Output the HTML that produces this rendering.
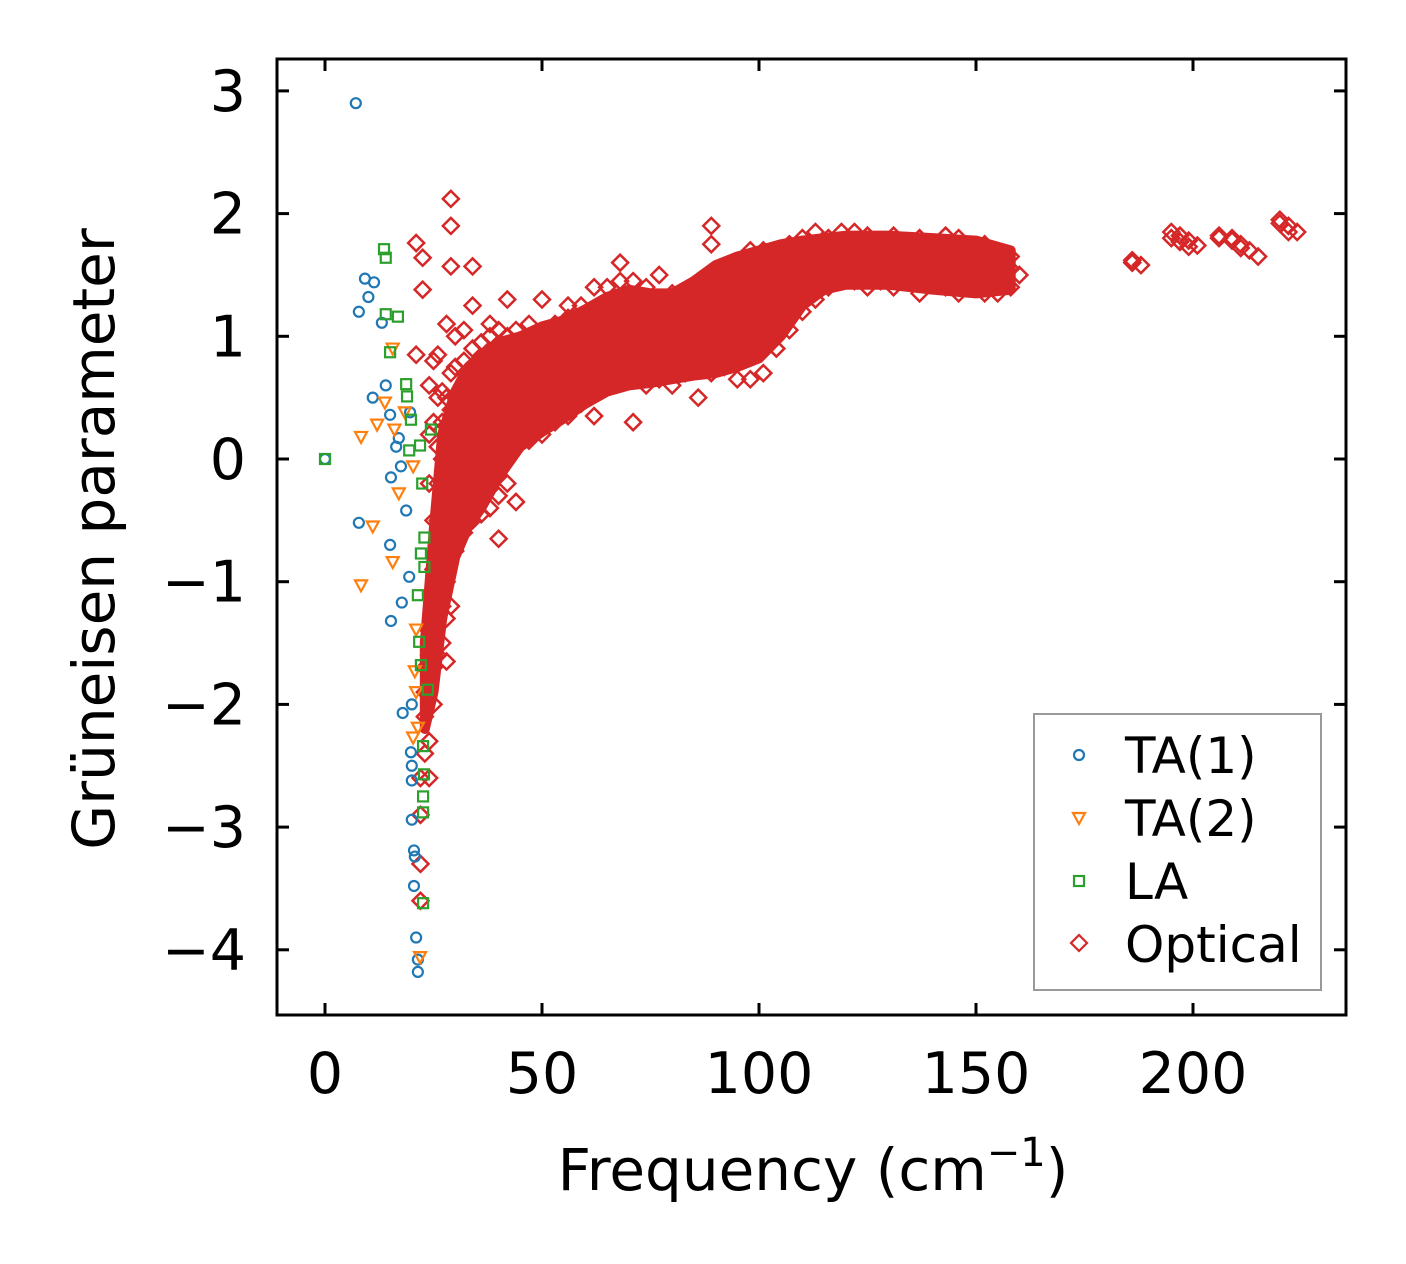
<!DOCTYPE html>
<html><head><meta charset="utf-8">
<style>
html,body{margin:0;padding:0;background:#fff;}
svg{display:block;font-family:"DejaVu Sans","Liberation Sans",sans-serif;}
</style></head>
<body>
<svg id="chart" width="1406" height="1264" viewBox="0 0 1406 1264" xmlns="http://www.w3.org/2000/svg">
<rect width="1406" height="1264" fill="#fff"/>
<g id="marks"></g>
<rect x="277" y="59" width="1069" height="956" fill="none" stroke="#000" stroke-width="3"/>
<g id="ticks"></g>
<text transform="translate(114,539) rotate(-90)" text-anchor="middle" font-size="58">Grüneisen parameter</text>
<text x="813" y="1190" text-anchor="middle" font-size="58">Frequency (cm<tspan dy="-24" font-size="40">−1</tspan><tspan dy="24">)</tspan></text>
<g>
<rect x="1034" y="714" width="287" height="276" fill="#fff" fill-opacity="0.8" stroke="#999" stroke-width="2"/>
<circle cx="1079" cy="755" r="5" fill="none" stroke="#1f77b4" stroke-width="2.2"/>
<text x="1125" y="773" font-size="50">TA(1)</text>
<path d="M1073,813 L1085,813 L1079,824 Z" fill="none" stroke="#ff7f0e" stroke-width="2.2"/>
<text x="1125" y="836" font-size="50">TA(2)</text>
<rect x="1074" y="876" width="10" height="10" fill="none" stroke="#2ca02c" stroke-width="2.2"/>
<text x="1125" y="899" font-size="50">LA</text>
<path d="M1079,935 L1087,943 L1079,951 L1071,943 Z" fill="none" stroke="#d62728" stroke-width="2.2"/>
<text x="1125" y="962" font-size="50">Optical</text>
</g>
</svg>
<script>
const xTicks = [0, 50, 100, 150, 200];
const yTicks = [3, 2, 1, 0, -1, -2, -3, -4];
const ta1Freq = [0,7.1,9.2,10,11.3,7.8,13.1,14,11,15,16.4,17.5,15.2,18.7,7.8,15,19.4,17.7,15.2,17.9,20,19.8,20,20,20,20.5,20.7,20.5,21,21.4,21.4,19.6,17];
const ta1Gamma = [0,2.9,1.47,1.32,1.44,1.2,1.11,0.6,0.5,0.36,0.1,-0.06,-0.15,-0.42,-0.52,-0.7,-0.96,-1.17,-1.32,-2.07,-2.0,-2.39,-2.5,-2.62,-2.94,-3.19,-3.24,-3.48,-3.9,-4.18,-4.08,0.38,0.17];
const ta2Freq = [8.3,11,8.3,12,13.8,15.6,16,15.6,17,18.4,20.3,21,21,20.3,21.9,20.7,21.4];
const ta2Gamma = [-1.03,-0.55,0.18,0.28,0.46,0.9,0.24,-0.84,-0.28,0.38,-0.06,-1.39,-1.9,-2.27,-4.06,-1.73,-2.19];
const laFreq = [0,13.6,14,14,16.8,15,18.7,18.9,19.8,21.9,22.4,22.9,22.9,21.4,21.7,22.1,23.7,22.6,22.8,22.6,22.6,22.6,24.4,19.4,22.1];
const laGamma = [0,1.71,1.64,1.18,1.16,0.87,0.61,0.51,0.32,0.11,-0.2,-0.64,-0.88,-1.11,-1.49,-1.68,-1.88,-2.34,-2.57,-2.75,-2.88,-3.62,0.24,0.07,-0.77];
// dense overlapping optical-mode core (envelope of the saturated region)
const opticalCoreFreq = [23,25,27,30,33,36,40,45,50,55,60,65,70,75,80,85,90,95,100,105,110,115,120,130,140,150,158];
const opticalCoreLow  = [-2.2,-1.9,-1.3,-0.8,-0.55,-0.4,-0.15,0.1,0.22,0.33,0.45,0.55,0.6,0.62,0.65,0.68,0.7,0.75,0.82,1.0,1.25,1.38,1.42,1.42,1.38,1.35,1.38];
const opticalCoreHigh = [-1.5,-0.6,0.2,0.55,0.75,0.85,0.95,1.0,1.08,1.13,1.22,1.32,1.38,1.35,1.35,1.45,1.58,1.65,1.7,1.75,1.78,1.8,1.82,1.82,1.8,1.78,1.7];
const opticalColumns = [
 [21,[0.85,1.76]],[22.5,[1.38,1.64]],
 [22,[-3.6,-3.3,-2.9,-2.6]],[23,[-2.4,-2.1,-1.9,-1.7]],
 [24,[-2.6,-2.3,-1.6,-1.4,-0.2,0.2,0.6]],[25,[-2.0,-1.7,-1.5,-1.2,-0.9,-0.5,0.3,0.8]],
 [26,[-1.6,-1.3,-1.1,-0.8,-0.5,-0.2,0.1,0.5,0.85]],[27,[-1.5,-1.2,-0.9,-0.6,-0.3,0,0.3,0.55]],
 [28,[-1.65,-1.3,-1.0,-0.7,-0.4,-0.1,0.2,0.5,1.1]],[29,[-1.2,-0.8,-0.5,-0.2,0.1,0.4,0.7,1.57,1.9,2.12]],
 [30,[-0.75,-0.5,-0.25,0,0.25,0.5,0.75,1.0]],[32,[-0.6,-0.4,-0.2,0,0.2,0.4,0.6,0.8,1.05]],
 [34,[-0.5,-0.3,-0.1,0.1,0.3,0.5,0.7,0.9,1.25,1.57]],[36,[-0.45,-0.25,-0.05,0.15,0.35,0.55,0.75,0.95]],
 [38,[-0.4,-0.2,0,0.2,0.4,0.6,0.8,1.0,1.1]],[40,[-0.65,-0.3,-0.1,0.1,0.3,0.5,0.7,0.9,1.05]],
 [42,[-0.2,0,0.2,0.4,0.6,0.8,1.0,1.3]],[44,[-0.35,0.1,0.3,0.5,0.7,0.9,1.05]],
 [47,[0.15,0.35,0.55,0.75,0.95,1.1]],[50,[0.2,0.4,0.6,0.8,1.0,1.3]],
 [53,[0.3,0.5,0.7,0.9,1.1]],[56,[0.35,0.55,0.75,0.95,1.15,1.25]],
 [59,[0.45,0.65,0.85,1.05,1.25]],[62,[0.35,0.55,0.75,0.95,1.15,1.4]],
 [65,[0.6,0.8,1.0,1.2,1.4]],[68,[0.65,0.85,1.05,1.25,1.45,1.6]],
 [71,[0.3,0.65,0.85,1.05,1.25,1.45]],[74,[0.6,0.8,1.0,1.2,1.4]],
 [77,[0.65,0.85,1.05,1.25,1.5]],[80,[0.6,0.8,1.0,1.2,1.35]],
 [83,[0.7,0.9,1.1,1.3]],[86,[0.5,0.75,0.95,1.15,1.35]],
 [89,[0.7,0.9,1.1,1.3,1.5,1.75,1.9]],[92,[0.75,0.95,1.15,1.35,1.55]],
 [95,[0.65,0.85,1.05,1.25,1.45,1.6]],[98,[0.65,0.9,1.1,1.3,1.5,1.7]],
 [101,[0.7,0.95,1.15,1.35,1.55,1.7]],[104,[0.9,1.1,1.3,1.5,1.7]],
 [107,[1.05,1.25,1.45,1.65,1.75]],[110,[1.2,1.4,1.6,1.8]],
 [113,[1.3,1.5,1.7,1.85]],[116,[1.4,1.6,1.8]],
 [119,[1.45,1.6,1.75,1.85]],[122,[1.45,1.6,1.75,1.85]],
 [125,[1.4,1.55,1.7,1.82]],[128,[1.45,1.6,1.75]],
 [131,[1.4,1.55,1.7,1.82]],[134,[1.45,1.6,1.75]],
 [137,[1.35,1.5,1.65,1.8]],[140,[1.45,1.6,1.75]],
 [143,[1.4,1.55,1.7,1.82]],[146,[1.35,1.5,1.65,1.8]],
 [149,[1.4,1.55,1.7]],[152,[1.35,1.5,1.65,1.75]],
 [155,[1.35,1.5,1.65]],[158,[1.4,1.55,1.65]],[160,[1.5]],
 [186,[1.62,1.6]],[188,[1.58]],
 [195,[1.85,1.8]],[197,[1.82,1.77]],[199,[1.78,1.73]],[201,[1.74]],
 [206,[1.8,1.82]],[209,[1.78,1.8]],[211,[1.75,1.72]],[213,[1.7]],[215,[1.65]],
 [220,[1.95,1.92]],[222,[1.9,1.85]],[224,[1.85]]
];

const NS = 'http://www.w3.org/2000/svg';
const xScale = v => 325 + v * 4.34;
const yScale = v => 459 - v * 122.7;
const marks = document.getElementById('marks');
const ticks = document.getElementById('ticks');

function mk(tag, attrs) {
  const e = document.createElementNS(NS, tag);
  for (const k in attrs) e.setAttribute(k, attrs[k]);
  return e;
}

xTicks.forEach(t => {
  const x = xScale(t);
  [[1015, 1003], [59, 71]].forEach(([a, b]) => {
    const l = mk('line', {x1: x, x2: x, y1: a, y2: b, stroke: '#000', 'stroke-width': 3});
    
    
    ticks.appendChild(l);
  });
  const tx = mk('text', {x: x, y: 1093, 'text-anchor': 'middle', 'font-size': 57});
  
  
  tx.textContent = String(t);
  ticks.appendChild(tx);
});
yTicks.forEach(t => {
  const y = yScale(t);
  [[277, 289], [1346, 1334]].forEach(([a, b]) => {
    const l = mk('line', {x1: a, x2: b, y1: y, y2: y, stroke: '#000', 'stroke-width': 3});
    
    
    ticks.appendChild(l);
  });
  const tx = mk('text', {x: 246, y: y + 20, 'text-anchor': 'end', 'font-size': 57});
  
  
  tx.textContent = t < 0 ? '\u2212' + Math.abs(t) : String(t);
  ticks.appendChild(tx);
});

// Optical dense core
{
  let d = '';
  opticalCoreFreq.forEach((f, i) => { d += (i ? 'L' : 'M') + xScale(f) + ',' + yScale(opticalCoreHigh[i]); });
  for (let i = opticalCoreFreq.length - 1; i >= 0; i--) d += 'L' + xScale(opticalCoreFreq[i]) + ',' + yScale(opticalCoreLow[i]);
  d += 'Z';
  const core = mk('path', {d: d, fill: '#d62728', stroke: '#d62728', 'stroke-width': 10, 'stroke-linejoin': 'round'});
  
  
  marks.appendChild(core);
}
// Optical points
opticalColumns.forEach(([f, gs]) => {
  gs.forEach(g => {
    const x = xScale(f), y = yScale(g);
    const p = mk('path', {d: `M${x},${y-8} L${x+8},${y} L${x},${y+8} L${x-8},${y} Z`, fill: 'none', stroke: '#d62728', 'stroke-width': 2.5});
    
    
    marks.appendChild(p);
  });
});
// TA1
ta1Freq.forEach((f, i) => {
  const c = mk('circle', {cx: xScale(f), cy: yScale(ta1Gamma[i]), r: 5, fill: 'none', stroke: '#1f77b4', 'stroke-width': 2.2});
  
  
  marks.appendChild(c);
});
// TA2
ta2Freq.forEach((f, i) => {
  const x = xScale(f), y = yScale(ta2Gamma[i]);
  const p = mk('path', {d: `M${x-6},${y-5} L${x+6},${y-5} L${x},${y+6} Z`, fill: 'none', stroke: '#ff7f0e', 'stroke-width': 2.2});
  
  
  marks.appendChild(p);
});
// LA
laFreq.forEach((f, i) => {
  const x = xScale(f), y = yScale(laGamma[i]);
  const r = mk('rect', {x: x - 5, y: y - 5, width: 10, height: 10, fill: 'none', stroke: '#2ca02c', 'stroke-width': 2.2});
  
  
  marks.appendChild(r);
});
</script>
</body></html>
